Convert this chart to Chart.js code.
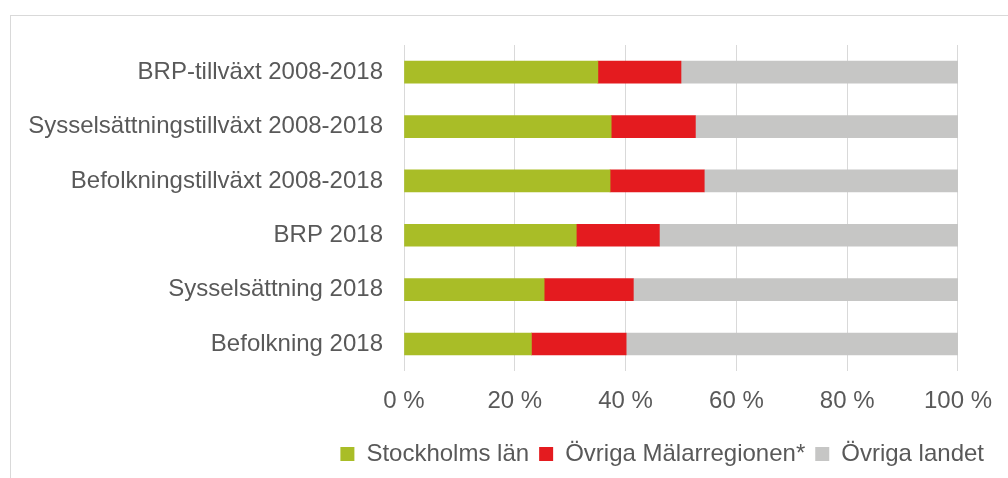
<!DOCTYPE html>
<html>
<head>
<meta charset="utf-8">
<script src="https://cdn.jsdelivr.net/npm/chart.js@4/dist/chart.umd.min.js"></script>
<style>
html,body{margin:0;padding:0;background:#fff;overflow:hidden;}
#frame{position:absolute;left:10px;top:15px;width:1100px;height:600px;border:1px solid #d9d9d9;}
#wrap{position:absolute;left:0;top:0;width:1008px;height:478px;}
</style>
</head>
<body>
<div id="frame"></div>
<div id="wrap"><canvas id="chartShare"></canvas></div>
<script>

/* DONNEES */

const categories = [
"BRP-tillväxt 2008-2018",
"Sysselsättningstillväxt 2008-2018",
"Befolkningstillväxt 2008-2018",
"BRP 2018",
"Sysselsättning 2018",
"Befolkning 2018"
];

const stockholmsLan = [35.0, 37.4, 37.2, 31.1, 25.3, 23.0];
const ovrigaMalarregionen = [15.0, 15.2, 17.0, 15.0, 16.1, 17.1];
const ovrigaLandet = [50.0, 47.4, 45.8, 53.9, 58.6, 59.9];

const seriesNames = ["Stockholms län","Övriga Mälarregionen*","Övriga landet"];
const seriesColors = ["#a9bd27","#e41b1f","#c6c6c5"];

const TEXT = "#595959";
const FONT = "'Liberation Sans', Arial, sans-serif";

/* decale la legende vers la droite */
const legendShift = {
id:'legendShift',
afterLayout(chart){
const lg = chart.legend;
if(!lg) return;
lg.left += 36;
lg.right += 36;
}
};

/* GRAPH */

new Chart(document.getElementById("chartShare"),{

type:'bar',

data:{
labels:categories,
datasets:[
{label:seriesNames[0],data:stockholmsLan,backgroundColor:seriesColors[0]},
{label:seriesNames[1],data:ovrigaMalarregionen,backgroundColor:seriesColors[1]},
{label:seriesNames[2],data:ovrigaLandet,backgroundColor:seriesColors[2]}
]
},

plugins:[legendShift],

options:{
indexAxis:'y',
responsive:true,
maintainAspectRatio:false,
animation:false,
datasets:{bar:{barThickness:22}},
layout:{padding:{top:45,right:50,bottom:2,left:0}},

plugins:{
tooltip:{enabled:false},
legend:{
position:'bottom',
align:'end',
labels:{
color:TEXT,
font:{family:FONT,size:24},
boxWidth:14,
boxHeight:14,
padding:10
}
}
},

scales:{
x:{
stacked:true,
min:0,
max:100,
ticks:{
stepSize:20,
color:TEXT,
font:{family:FONT,size:24},
padding:16,
callback:v=>v+" %"
},
grid:{color:"#d9d9d9",lineWidth:1,drawTicks:false},
border:{display:false}
},
y:{
stacked:true,
ticks:{
color:TEXT,
font:{family:FONT,size:24},
padding:21
},
grid:{display:false,drawTicks:false},
border:{display:false},
afterFit:scale=>{scale.width=404;}
}
}

}

});

</script>
</body>
</html>
